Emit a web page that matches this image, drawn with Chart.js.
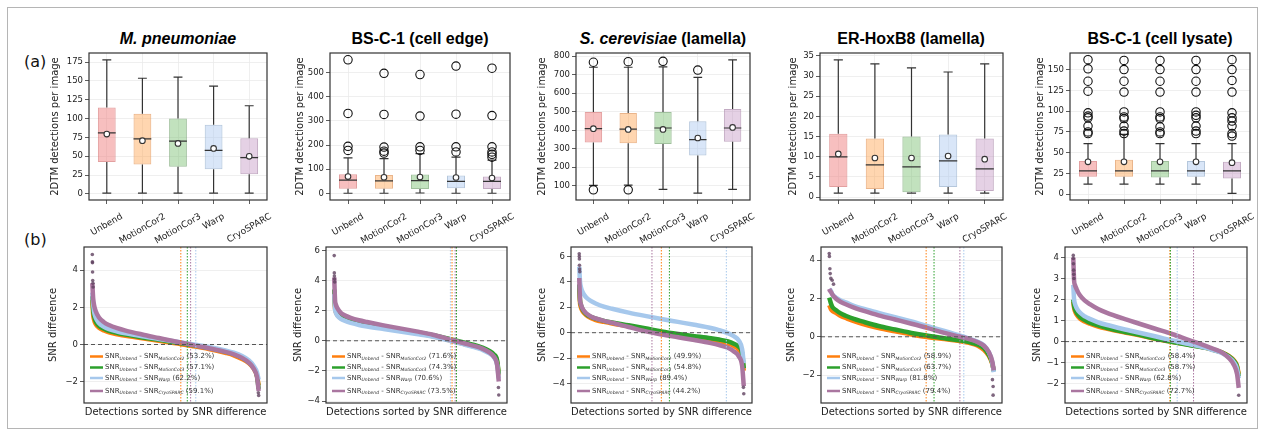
<!DOCTYPE html>
<html>
<head>
<meta charset="utf-8">
<script src="https://cdn.jsdelivr.net/npm/chart.js@4.4.0/dist/chart.umd.min.js"></script>
<style>
  body { margin: 0; background: #fff; }
  #fig { position: relative; width: 1264px; height: 435px; background: #fff; overflow: hidden; }
  #fig canvas { position: absolute; }
  #border { position: absolute; left: 7px; top: 7px; width: 1249px; height: 420px; border: 1px solid #b5b5b5; }
  .ttl { position: absolute; top: 30px; transform: translateX(-50%); white-space: nowrap;
         font: bold 16px "Liberation Sans", Arial, sans-serif; line-height: 18px; color: #000; }
  .lbl { position: absolute; left: 24px; font: 16px "DejaVu Sans", sans-serif; line-height: 19px; color: #111; }
</style>
</head>
<body>
<div id="fig">
  <div id="border"></div>
  <div class="lbl" style="top:52px">(a)</div>
  <div class="lbl" style="top:230px">(b)</div>
  <div class="ttl" style="left:178px"><i>M. pneumoniae</i></div>
  <div class="ttl" style="left:420px">BS-C-1 (cell edge)</div>
  <div class="ttl" style="left:663px"><i>S. cerevisiae</i> (lamella)</div>
  <div class="ttl" style="left:911px">ER-HoxB8 (lamella)</div>
  <div class="ttl" style="left:1160px">BS-C-1 (cell lysate)</div>
  <canvas id="c1"></canvas><canvas id="c2"></canvas><canvas id="c3"></canvas><canvas id="c4"></canvas><canvas id="c5"></canvas>
  <canvas id="c6"></canvas><canvas id="c7"></canvas><canvas id="c8"></canvas><canvas id="c9"></canvas><canvas id="c10"></canvas>
</div>
<script>
// ---- (a) detections per image, box statistics ----
const METHODS = ["Unbend", "MotionCor2", "MotionCor3", "Warp", "CryoSPARC"];

const mpnTicks = [0, 25, 50, 75, 100, 125, 150, 175];
const mpnLow = [1, 1, 1, 1, 1];
const mpnQ1 = [42.5, 39, 36, 32.7, 26];
const mpnMed = [81, 73, 70, 57.7, 48.3];
const mpnQ3 = [114.6, 106.5, 100, 91.8, 74];
const mpnHigh = [178, 153.5, 155, 143, 117];
const mpnMean = [79.5, 70.7, 67, 60.4, 50];
const mpnOut = [[], [], [], [], []];

const edgeTicks = [0, 100, 200, 300, 400, 500];
const edgeLow = [1, 1, 2, 1, 1];
const edgeQ1 = [20, 20, 19, 22, 18];
const edgeMed = [55, 52, 53, 50, 50];
const edgeQ3 = [79, 76, 78, 74, 70];
const edgeHigh = [147, 144, 165, 150, 138];
const edgeMean = [70, 67, 68, 66, 64];
const edgeOut = [[553, 331, 195, 178], [497, 327, 192, 175, 167], [492, 320, 193, 178],
                 [527, 328, 193, 172], [518, 322, 193, 172, 162, 150]];

const yeastTicks = [100, 200, 300, 400, 500, 600, 700, 800];
const yeastLow = [102, 103, 80, 60, 80];
const yeastQ1 = [333, 330, 325, 264, 338];
const yeastMed = [408, 406, 412, 349, 412];
const yeastQ3 = [498, 493, 498, 448, 515];
const yeastHigh = [740, 740, 742, 685, 780];
const yeastMean = [408, 404, 404, 358, 415];
const yeastOut = [[767, 78], [770, 78], [772], [725], []];

const erTicks = [0, 5, 10, 15, 20, 25, 30, 35];
const erLow = [1, 1, 1, 1, 1];
const erQ1 = [2.5, 2, 1.2, 2.5, 1.5];
const erMed = [10, 8, 7.5, 9, 7];
const erQ3 = [15.7, 14.5, 15, 15.5, 14.5];
const erHigh = [34, 33, 32, 31, 33];
const erMean = [10.7, 9.7, 9.7, 10.2, 9.4];
const erOut = [[], [], [], [], []];

const lysTicks = [0, 25, 50, 75, 100, 125, 150];
const lysLow = [12, 12, 12, 12, 1];
const lysQ1 = [21, 21, 20, 21, 19];
const lysMed = [28, 28, 28, 28, 28];
const lysQ3 = [40, 41.5, 40, 40, 39];
const lysHigh = [61, 72, 61, 61, 61];
const lysMean = [39, 39, 39, 39, 38];
const lysOut = [[162, 151, 136, 124, 98, 94, 92, 82, 75, 73],
                [161, 150, 136, 123, 99, 93, 91, 82, 76, 73],
                [161, 150, 136, 123, 99, 93, 91, 81, 75, 73],
                [161, 150, 136, 123, 99, 95, 92, 82, 76, 73],
                [162, 150, 137, 123, 98, 92, 88, 82, 73, 70]];

// ---- (b) sorted SNR differences, read at these positions (% of detections) ----
const SORT_X = [0, 0.5, 1, 2, 4, 7, 10, 15, 20, 30, 40, 50, 60, 70, 80, 85, 90, 94, 97, 99, 100];
const DIFF_NAMES = ["MotionCor2", "MotionCor3", "Warp", "CryoSPARC"];

const mpnDiffTicks = [-2, 0, 2, 4];
const mpnPct = [53.2, 57.1, 62.2, 59.1];
const mpnMc2 = [2.4, 1.6, 1.35, 1.1, 0.9, 0.75, 0.65, 0.55, 0.47, 0.33, 0.2, 0.06, -0.08, -0.24, -0.45, -0.58, -0.78, -1.0, -1.3, -1.7, -2.2];
const mpnMc3 = [2.6, 1.9, 1.55, 1.25, 1.0, 0.85, 0.74, 0.62, 0.53, 0.38, 0.25, 0.11, -0.03, -0.18, -0.38, -0.5, -0.7, -0.95, -1.25, -1.7, -2.4];
const mpnWarp = [2.8, 2.2, 1.8, 1.45, 1.15, 0.95, 0.83, 0.7, 0.6, 0.44, 0.3, 0.16, 0.02, -0.13, -0.32, -0.44, -0.62, -0.85, -1.15, -1.5, -1.9];
const mpnCryo = [3.3, 2.5, 2.15, 1.8, 1.45, 1.2, 1.05, 0.88, 0.75, 0.54, 0.35, 0.16, -0.02, -0.2, -0.4, -0.53, -0.72, -0.97, -1.3, -1.75, -2.5];
const mpnExtra = [[0, 4.85], [0.05, 4.45], [0.1, 4.4], [0.15, 3.9], [0.25, 3.45], [0.35, 3.3], [0.5, 3.1], [99.8, -2.6], [100, -2.75]];

const edgeDiffTicks = [-4, -2, 0, 2, 4, 6];
const edgePct = [71.6, 74.3, 70.6, 73.5];
const edgeMc2 = [3.0, 2.1, 1.9, 1.7, 1.5, 1.35, 1.25, 1.12, 1.02, 0.85, 0.68, 0.5, 0.3, 0.03, -0.25, -0.38, -0.55, -0.75, -1.0, -1.4, -2.3];
const edgeMc3 = [3.4, 2.3, 2.05, 1.85, 1.62, 1.45, 1.35, 1.22, 1.12, 0.93, 0.75, 0.57, 0.37, 0.12, -0.15, -0.28, -0.45, -0.65, -0.9, -1.3, -2.2];
const edgeWarp = [3.1, 2.1, 1.85, 1.65, 1.45, 1.3, 1.18, 1.05, 0.95, 0.78, 0.62, 0.45, 0.27, 0.01, -0.28, -0.42, -0.6, -0.82, -1.1, -1.6, -2.5];
const edgeCryo = [4.2, 2.7, 2.4, 2.15, 1.85, 1.65, 1.52, 1.36, 1.24, 1.02, 0.82, 0.62, 0.4, 0.1, -0.2, -0.34, -0.52, -0.75, -1.05, -1.6, -2.7];
const edgeExtra = [[0, 5.65], [0.05, 4.5], [0.1, 4.3], [0.2, 4.1], [0.3, 3.9], [99.8, -3.1], [100, -3.6]];

const yeastDiffTicks = [-4, -2, 0, 2, 4, 6];
const yeastPct = [49.9, 54.8, 89.4, 44.2];
const yeastMc2 = [3.5, 2.3, 2.0, 1.7, 1.4, 1.15, 1.0, 0.85, 0.72, 0.5, 0.26, 0.0, -0.2, -0.38, -0.58, -0.7, -0.85, -1.05, -1.35, -1.9, -3.0];
const yeastMc3 = [3.8, 2.5, 2.2, 1.85, 1.5, 1.25, 1.1, 0.93, 0.8, 0.58, 0.35, 0.1, -0.1, -0.27, -0.44, -0.54, -0.67, -0.87, -1.12, -1.6, -2.8];
const yeastWarp = [5.2, 4.0, 3.6, 3.2, 2.8, 2.5, 2.3, 2.05, 1.88, 1.58, 1.32, 1.08, 0.85, 0.62, 0.37, 0.2, -0.02, -0.28, -0.62, -1.3, -2.4];
const yeastCryo = [4.3, 2.6, 2.25, 1.9, 1.55, 1.28, 1.12, 0.93, 0.78, 0.45, 0.12, -0.14, -0.36, -0.58, -0.82, -0.97, -1.17, -1.47, -1.87, -2.6, -4.2];
const yeastExtra = [[0, 6.2], [0.05, 6.0], [0.1, 5.8], [0.15, 5.3], [0.25, 5.0], [0.35, 4.8], [99.8, -4.3], [100, -4.8]];

const erDiffTicks = [-2, 0, 2, 4];
const erPct = [58.9, 63.7, 81.8, 79.4];
const erMc2 = [1.65, 1.55, 1.45, 1.35, 1.25, 1.08, 0.98, 0.82, 0.68, 0.45, 0.28, 0.12, -0.02, -0.12, -0.24, -0.32, -0.45, -0.68, -1.0, -1.4, -1.75];
const erMc3 = [2.05, 1.9, 1.75, 1.55, 1.4, 1.22, 1.1, 0.93, 0.8, 0.56, 0.38, 0.2, 0.05, -0.08, -0.2, -0.28, -0.4, -0.6, -0.95, -1.35, -1.8];
const erWarp = [2.5, 2.45, 2.4, 2.2, 2.05, 1.9, 1.8, 1.62, 1.48, 1.25, 1.02, 0.8, 0.55, 0.3, 0.04, -0.1, -0.25, -0.45, -0.8, -1.3, -1.85];
const erCryo = [2.5, 2.4, 2.35, 2.2, 2.0, 1.82, 1.7, 1.52, 1.38, 1.12, 0.9, 0.68, 0.45, 0.2, -0.01, -0.12, -0.27, -0.47, -0.8, -1.25, -1.75];
const erExtra = [[0, 4.35], [0.1, 4.2], [0.4, 3.55], [0.6, 3.3], [1.0, 3.05], [1.8, 2.95], [2.6, 2.75], [99.2, -2.24], [99.6, -2.6], [99.6, -3.05]];

const lysDiffTicks = [-2, -1, 0, 1, 2, 3, 4];
const lysPct = [58.4, 58.7, 62.8, 72.7];
const lysMc2 = [1.9, 1.6, 1.45, 1.28, 1.1, 0.95, 0.85, 0.72, 0.62, 0.45, 0.3, 0.12, -0.02, -0.15, -0.3, -0.4, -0.52, -0.68, -0.88, -1.15, -1.55];
const lysMc3 = [2.0, 1.7, 1.55, 1.38, 1.18, 1.02, 0.9, 0.77, 0.66, 0.48, 0.32, 0.13, -0.02, -0.16, -0.3, -0.4, -0.52, -0.7, -0.92, -1.2, -1.65];
const lysWarp = [2.7, 2.0, 1.8, 1.6, 1.38, 1.2, 1.08, 0.92, 0.8, 0.6, 0.42, 0.24, 0.05, -0.12, -0.3, -0.42, -0.55, -0.75, -0.98, -1.3, -1.75];
const lysCryo = [4.0, 2.9, 2.7, 2.5, 2.2, 1.95, 1.78, 1.55, 1.38, 1.1, 0.85, 0.6, 0.35, 0.07, -0.2, -0.35, -0.52, -0.78, -1.1, -1.55, -2.2];
const lysExtra = [[0, 4.1], [0.05, 3.95], [0.1, 3.7], [0.2, 3.4], [0.3, 3.2], [0.4, 3.0], [100, -2.55]];

// ---- styles ----
const FONT = '"DejaVu Sans", sans-serif';
const BOX_FILL = ["rgba(240,128,128,0.5)", "rgba(255,165,80,0.45)", "rgba(120,190,110,0.45)",
                  "rgba(170,200,240,0.45)", "rgba(190,140,190,0.4)"];
const BOX_EDGE = ["rgba(215,120,120,0.7)", "rgba(225,150,90,0.7)", "rgba(120,165,115,0.7)",
                  "rgba(150,175,205,0.7)", "rgba(170,135,170,0.7)"];
const DIFF_COLORS = ["#ff7f0e", "#2ca02c", "#a6c8ec", "#aa76a0"];
const PAD_T = 8, PAD_R = 6;

Chart.defaults.font.family = FONT;
Chart.defaults.color = "#222";
Chart.defaults.animation = false;

const minusFmt = v => (v < 0 ? "\u2212" + Math.abs(v) : String(v));

function place(canvas, f, yw, xh) {
  canvas.width = f.R - f.L + yw + PAD_R;
  canvas.height = f.B - f.T + PAD_T + xh;
  canvas.style.left = (f.L - yw) + "px";
  canvas.style.top = (f.T - PAD_T) + "px";
}

function yAxis(range, ticks, yw, title) {
  return {
    min: range[0], max: range[1],
    afterBuildTicks: s => { s.ticks = ticks.map(v => ({ value: v })); },
    afterFit: s => { s.width = yw; },
    ticks: { font: { size: 8.5 }, color: "#222", padding: 2, callback: minusFmt },
    grid: { color: "#ebebeb", tickColor: "#333", tickLength: 4, lineWidth: 0.8 },
    border: { display: false },
    title: { display: true, text: title, font: { size: 10 }, color: "#222", padding: { top: 4, bottom: 4 } }
  };
}

const framePlugin = {
  id: "frame",
  afterDraw(chart) {
    const a = chart.chartArea, ctx = chart.ctx;
    ctx.save();
    ctx.strokeStyle = "#333";
    ctx.lineWidth = 1.2;
    ctx.strokeRect(a.left, a.top, a.right - a.left, a.bottom - a.top);
    ctx.restore();
  }
};

// category labels rotated 30 degrees, centred under each tick
const rotLabels = {
  id: "rotLabels",
  afterDraw(chart) {
    const xs = chart.scales.x, a = chart.chartArea, ctx = chart.ctx;
    ctx.save();
    ctx.font = "9px " + FONT;
    ctx.fillStyle = "#222";
    ctx.textAlign = "center";
    ctx.textBaseline = "middle";
    xs.getLabels().forEach((lab, i) => {
      const w = ctx.measureText(lab).width;
      const bh = w * 0.5 + 9 * 0.866;
      ctx.save();
      ctx.translate(xs.getPixelForTick(i), a.bottom + 12 + bh / 2);
      ctx.rotate(-Math.PI / 6);
      ctx.fillText(lab, 0, 0);
      ctx.restore();
    });
    ctx.restore();
  }
};

function whiskers(s) {
  return {
    id: "whiskers",
    afterDatasetDraw(chart, args) {
      if (args.index !== 0) return;
      const y = chart.scales.y, ctx = chart.ctx;
      const bars = chart.getDatasetMeta(0).data;
      const py = v => y.getPixelForValue(v);
      ctx.save();
      ctx.strokeStyle = "#333";
      ctx.lineWidth = 1.2;
      bars.forEach((bar, i) => {
        const cx = bar.x, half = bar.width / 2;
        ctx.beginPath();
        ctx.moveTo(cx, py(s.q1[i])); ctx.lineTo(cx, py(s.low[i]));
        ctx.moveTo(cx, py(s.q3[i])); ctx.lineTo(cx, py(s.high[i]));
        ctx.moveTo(cx - half / 2, py(s.low[i])); ctx.lineTo(cx + half / 2, py(s.low[i]));
        ctx.moveTo(cx - half / 2, py(s.high[i])); ctx.lineTo(cx + half / 2, py(s.high[i]));
        ctx.moveTo(cx - half, py(s.med[i])); ctx.lineTo(cx + half, py(s.med[i]));
        ctx.stroke();
      });
      ctx.restore();
    }
  };
}

function boxPanel(id, f, yw, range, ticks, s) {
  const c = document.getElementById(id);
  place(c, f, yw, 50);
  new Chart(c, {
    type: "bar",
    data: {
      labels: METHODS,
      datasets: [
        {
          type: "bar", data: s.q1.map((v, i) => [v, s.q3[i]]),
          backgroundColor: BOX_FILL, borderColor: BOX_EDGE, borderWidth: 1, borderSkipped: false,
          barPercentage: 0.5, categoryPercentage: 1, order: 3
        },
        {
          type: "line", showLine: false, order: 2,
          data: s.out.flatMap((arr, i) => arr.map(v => ({ x: METHODS[i], y: v }))),
          pointRadius: 4.2, borderColor: "#111", backgroundColor: "rgba(255,255,255,0)",
          pointBorderColor: "#111", pointBackgroundColor: "rgba(255,255,255,0)", pointBorderWidth: 1.1
        },
        {
          type: "line", showLine: false, order: 1,
          data: s.mean.map((v, i) => ({ x: METHODS[i], y: v })),
          pointRadius: 2.8, borderColor: "#333", backgroundColor: "#fff",
          pointBorderColor: "#333", pointBackgroundColor: "#fff", pointBorderWidth: 1.1
        }
      ]
    },
    options: {
      responsive: false,
      events: [],
      layout: { padding: { top: PAD_T, right: PAD_R, left: 0, bottom: 0 } },
      plugins: { legend: { display: false }, tooltip: { enabled: false } },
      scales: {
        x: {
          type: "category", offset: true,
          afterFit: sc => { sc.height = 50; },
          ticks: { display: false },
          grid: { offset: false, color: "#ebebeb", tickColor: "#333", tickLength: 4, lineWidth: 0.8 },
          border: { display: false }
        },
        y: yAxis(range, ticks, yw, "2DTM detections per image")
      }
    },
    plugins: [whiskers(s), framePlugin, rotLabels]
  });
}

function refLines(pcts) {
  return {
    id: "refLines",
    afterDatasetsDraw(chart) {
      const a = chart.chartArea, ctx = chart.ctx, xs = chart.scales.x, ys = chart.scales.y;
      ctx.save();
      ctx.lineWidth = 1;
      ctx.setLineDash([1.5, 1.5]);
      pcts.forEach((p, k) => {
        const px = xs.getPixelForValue(p);
        ctx.strokeStyle = DIFF_COLORS[k];
        ctx.beginPath(); ctx.moveTo(px, a.top); ctx.lineTo(px, a.bottom); ctx.stroke();
      });
      ctx.setLineDash([4, 3]);
      ctx.strokeStyle = "#555";
      const y0 = ys.getPixelForValue(0);
      ctx.beginPath(); ctx.moveTo(a.left, y0); ctx.lineTo(a.right, y0); ctx.stroke();
      ctx.restore();
    }
  };
}

function diffLegend(pcts) {
  const rows = [-46.5, -35.5, -25, -12];
  return {
    id: "diffLegend",
    afterDraw(chart) {
      const a = chart.chartArea, ctx = chart.ctx;
      ctx.save();
      ctx.textBaseline = "middle";
      DIFF_NAMES.forEach((name, k) => {
        const y = a.bottom + rows[k];
        ctx.strokeStyle = DIFF_COLORS[k];
        ctx.lineWidth = 2.5;
        ctx.beginPath(); ctx.moveTo(a.left + 6, y); ctx.lineTo(a.left + 19, y); ctx.stroke();
        let x = a.left + 21;
        const put = (t, sub) => {
          ctx.font = sub ? "italic 4.5px " + FONT : "7px " + FONT;
          ctx.fillStyle = "#333";
          ctx.fillText(t, x, sub ? y + 2 : y);
          x += ctx.measureText(t).width;
        };
        put("SNR"); put("Unbend", true); put(" - SNR"); put(name, true);
        put(" (" + pcts[k].toFixed(1) + "%)");
      });
      ctx.restore();
    }
  };
}

function diffPanel(id, f, yw, range, ticks, series, pcts, extra) {
  const c = document.getElementById(id);
  place(c, f, yw, 19);
  const datasets = series.map((vals, k) => ({
    data: SORT_X.map((x, i) => ({ x: x, y: vals[i] })),
    borderColor: DIFF_COLORS[k], borderWidth: 4.5, pointRadius: 0,
    cubicInterpolationMode: "monotone", fill: false, order: 4 - k
  }));
  datasets.push({
    data: extra.map(p => ({ x: p[0], y: p[1] })), showLine: false, order: 0,
    pointRadius: 1.8, pointBorderWidth: 0,
    borderColor: "rgba(95,65,95,0.8)", backgroundColor: "rgba(95,65,95,0.8)",
    pointBackgroundColor: "rgba(95,65,95,0.8)"
  });
  new Chart(c, {
    type: "line",
    data: { datasets },
    options: {
      responsive: false,
      events: [],
      layout: { padding: { top: PAD_T, right: PAD_R, left: 0, bottom: 0 } },
      plugins: { legend: { display: false }, tooltip: { enabled: false } },
      scales: {
        x: {
          type: "linear", min: -5, max: 105,
          afterFit: sc => { sc.height = 19; },
          ticks: { display: false },
          grid: { display: false },
          border: { display: false },
          title: { display: true, text: "Detections sorted by SNR difference", font: { size: 10 },
                   color: "#222", padding: { top: 0, bottom: 4 } }
        },
        y: yAxis(range, ticks, yw, "SNR difference")
      }
    },
    plugins: [refLines(pcts), framePlugin, diffLegend(pcts)]
  });
}

// ---- top row ----
boxPanel("c1", { L: 89, R: 267, T: 53, B: 200 }, 44, [-8, 187], mpnTicks,
  { low: mpnLow, q1: mpnQ1, med: mpnMed, q3: mpnQ3, high: mpnHigh, mean: mpnMean, out: mpnOut });
boxPanel("c2", { L: 330, R: 510, T: 53, B: 200 }, 40, [-27, 581], edgeTicks,
  { low: edgeLow, q1: edgeQ1, med: edgeMed, q3: edgeQ3, high: edgeHigh, mean: edgeMean, out: edgeOut });
boxPanel("c3", { L: 576, R: 750, T: 53, B: 200 }, 44, [23, 817], yeastTicks,
  { low: yeastLow, q1: yeastQ1, med: yeastMed, q3: yeastQ3, high: yeastHigh, mean: yeastMean, out: yeastOut });
boxPanel("c4", { L: 820, R: 1003, T: 53, B: 200 }, 37, [-0.7, 35.7], erTicks,
  { low: erLow, q1: erQ1, med: erMed, q3: erQ3, high: erHigh, mean: erMean, out: erOut });
boxPanel("c5", { L: 1070, R: 1250, T: 53, B: 200 }, 40, [-7, 170], lysTicks,
  { low: lysLow, q1: lysQ1, med: lysMed, q3: lysQ3, high: lysHigh, mean: lysMean, out: lysOut });

// ---- bottom row ----
diffPanel("c6", { L: 84, R: 267, T: 247, B: 403 }, 41, [-3.15, 5.25], mpnDiffTicks,
  [mpnMc2, mpnMc3, mpnWarp, mpnCryo], mpnPct, mpnExtra);
diffPanel("c7", { L: 326, R: 507, T: 247, B: 403 }, 38, [-4.13, 6.22], edgeDiffTicks,
  [edgeMc2, edgeMc3, edgeWarp, edgeCryo], edgePct, edgeExtra);
diffPanel("c8", { L: 571, R: 752, T: 247, B: 403 }, 39, [-5.53, 6.74], yeastDiffTicks,
  [yeastMc2, yeastMc3, yeastWarp, yeastCryo], yeastPct, yeastExtra);
diffPanel("c9", { L: 821, R: 1002, T: 247, B: 403 }, 40, [-3.46, 4.69], erDiffTicks,
  [erMc2, erMc3, erWarp, erCryo], erPct, erExtra);
diffPanel("c10", { L: 1065, R: 1247, T: 247, B: 403 }, 38, [-2.92, 4.5], lysDiffTicks,
  [lysMc2, lysMc3, lysWarp, lysCryo], lysPct, lysExtra);
</script>
</body>
</html>
